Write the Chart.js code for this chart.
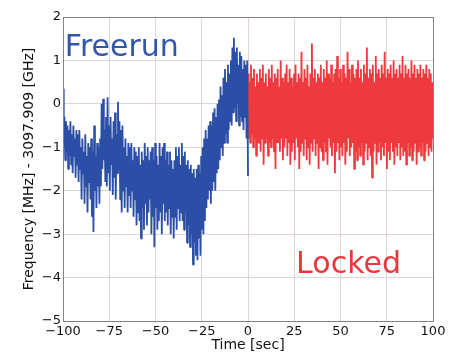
<!DOCTYPE html>
<html><head><meta charset="utf-8">
<script src="https://cdn.jsdelivr.net/npm/chart.js@4.4.1/dist/chart.umd.min.js"></script>
<style>html,body{margin:0;padding:0;background:#fff;}canvas{display:block;}</style>
</head><body>
<canvas id="c" width="459" height="354"></canvas>
<script>
// Time span of each run (seconds)
const freerunStart = -100, freerunEnd = 0;
const lockedStart = 0, lockedEnd = 100;
// Frequency offset (MHz), free-running
const freerunValues = [
 0.35,-1.0,-0.3,-1.3,-0.4,-1.1,-0.5,-1.5,-0.6,-1.2,
 -0.4,-1.4,-0.7,-1.6,-0.5,-1.2,-0.8,-1.7,-0.6,-1.4,
 -0.7,-1.8,-0.6,-1.5,-1.0,-2.2,-0.8,-1.6,-1.1,-2.3,
 -0.7,-1.9,-1.2,-2.5,-0.9,-1.8,-1.0,-2.2,-0.8,-2.6,
 -1.1,-2.95,-0.5,-2.0,-1.2,-2.4,-0.9,-1.9,-1.0,-2.3,
 -0.8,-1.9,0.0,-1.5,0.12,-1.3,-0.6,-1.8,-0.3,-1.9,
 0.15,-1.6,-0.5,-2.0,-0.3,-1.4,-0.8,-2.1,-0.4,-1.7,
 -0.2,-2.2,-0.7,-1.6,0.05,-1.5,-0.4,-2.2,-0.6,-2.5,
 -0.5,-2.0,-1.0,-2.4,-0.8,-1.9,-1.2,-2.5,-0.9,-2.1,
 -1.0,-2.4,-0.9,-2.0,-1.3,-2.6,-1.0,-2.2,-1.1,-2.8,
 -1.2,-2.5,-1.0,-2.7,-1.4,-3.1,-1.1,-2.4,-1.3,-2.9,
 -0.9,-2.3,-1.2,-2.8,-1.0,-2.5,-1.3,-2.2,-1.1,-3.0,
 -1.0,-2.6,-1.3,-3.3,-0.9,-2.4,-1.2,-2.9,-1.4,-2.7,
 -0.9,-2.5,-1.2,-3.0,-1.0,-2.3,-0.9,-2.7,-1.3,-2.5,
 -1.1,-2.8,-1.4,-2.4,-1.1,-3.0,-1.3,-2.6,-1.5,-3.1,
 -1.3,-2.6,-1.0,-2.9,-1.2,-2.4,-1.0,-2.7,-1.4,-2.5,
 -0.9,-2.7,-1.2,-2.9,-1.1,-2.5,-1.4,-3.2,-1.3,-2.8,
 -1.5,-3.3,-1.4,-3.0,-1.6,-3.7,-1.5,-3.2,-1.7,-3.5,
 -1.5,-3.6,-1.4,-3.1,-1.6,-3.5,-1.2,-2.9,-1.0,-3.0,
 -0.8,-2.7,-0.6,-2.4,-0.8,-2.2,-0.5,-2.0,-0.4,-2.3,
 -0.5,-2.0,-0.2,-1.8,-0.1,-2.0,-0.3,-1.6,0.0,-1.5,
 0.1,-1.3,0.4,-1.0,0.2,-1.2,0.6,-0.9,0.8,-0.7,
 0.5,-0.9,0.9,-0.6,0.7,-0.4,1.0,-0.5,1.3,-0.2,
 1.52,-0.1,1.2,-0.4,1.3,0.0,0.9,-0.5,1.2,-0.3,
 1.1,-0.4,0.8,-0.6,1.0,-0.3,0.9,-0.8,1.0,-1.66
];
// Frequency offset (MHz), locked
const lockedValues = [
 0.7,-0.8,0.5,-0.9,0.9,-0.7,0.6,-1.0,0.8,-0.8,
 0.4,-1.2,0.7,-0.9,0.5,-0.9,0.8,-1.1,0.6,-0.8,
 0.9,-1.4,0.5,-0.9,0.7,-0.8,0.4,-1.2,0.8,-0.9,
 0.6,-1.0,0.9,-0.8,0.5,-1.1,0.7,-1.5,0.6,-0.9,
 0.8,-0.9,0.4,-1.1,1.0,-0.8,0.6,-1.3,0.5,-1.0,
 0.7,-0.8,0.9,-1.2,0.5,-0.9,0.8,-1.4,0.6,-1.1,
 0.4,-0.9,0.7,-1.3,0.9,-0.8,0.5,-1.0,0.7,-1.5,
 0.6,-1.1,1.2,-0.9,0.5,-1.2,0.8,-0.8,0.6,-1.3,
 0.9,-1.0,0.4,-1.4,0.7,-0.9,1.39,-1.1,0.6,-0.8,
 0.8,-1.2,0.5,-0.9,0.7,-1.5,0.6,-1.0,0.9,-1.1,
 0.5,-1.3,0.8,-0.9,0.6,-1.1,1.0,-1.4,0.7,-0.8,
 0.6,-1.0,0.9,-1.2,0.5,-0.9,0.7,-1.6,0.8,-1.1,
 1.1,-0.9,0.6,-1.3,0.8,-1.0,0.5,-1.2,0.9,-0.9,
 0.7,-1.4,0.6,-1.1,1.2,-0.8,0.8,-1.2,0.5,-1.0,
 0.9,-0.9,0.7,-1.5,0.6,-1.1,0.8,-1.3,1.0,-1.0,
 0.6,-1.2,0.8,-0.9,0.5,-1.4,0.9,-1.1,0.7,-0.9,
 1.3,-1.3,0.6,-1.0,0.8,-1.2,0.7,-1.7,0.9,-1.1,
 0.5,-0.9,1.1,-1.4,0.7,-1.1,0.8,-0.9,0.6,-1.3,
 0.9,-1.0,0.7,-1.2,1.2,-0.9,0.6,-1.5,0.8,-1.1,
 0.7,-1.3,0.9,-0.9,0.6,-1.1,1.0,-1.4,0.7,-1.0,
 0.8,-1.2,0.6,-0.9,0.9,-1.3,0.7,-1.0,1.1,-1.2,
 0.6,-1.1,0.9,-1.4,0.7,-0.9,0.8,-1.2,0.6,-1.0,
 1.0,-1.3,0.7,-1.1,0.9,-0.9,0.6,-1.4,0.8,-1.1,
 0.7,-1.0,0.9,-1.2,0.6,-0.9,0.8,-1.3,0.7,-1.1,
 0.9,-0.9,0.6,-1.2,0.8,-1.0,0.7,-1.1,0.5,-0.8
];
const xTicks = [-100, -75, -50, -25, 0, 25, 50, 75, 100];
const yTicks = [-5, -4, -3, -2, -1, 0, 1, 2];
const xTitle = 'Time [sec]';
const yTitle = 'Frequency [MHz] - 3097.909 [GHz]';
const labelsText = [{text: 'Freerun', x: -99, y: 1.1, color: '#3456a8'},
                    {text: 'Locked', x: 26, y: -3.9, color: '#e8383d'}];

function toPoints(vals, t0, t1) {
  const n = vals.length;
  return vals.map((v, i) => ({x: t0 + (t1 - t0) * i / (n - 1), y: v}));
}
const minus = s => String(s).replace('-', '\u2212');
const FONT = "'DejaVu Sans', sans-serif";

const framePlugin = {
  id: 'frame',
  afterDatasetsDraw(chart) {
    const {ctx, chartArea: a, scales} = chart;
    ctx.save();
    ctx.strokeStyle = '#8a8080';
    ctx.lineWidth = 1;
    ctx.strokeRect(Math.round(a.left) + 0.5, Math.round(a.top) + 0.5,
                   Math.round(a.right - a.left), Math.round(a.bottom - a.top));
    ctx.font = '30px ' + FONT;
    ctx.textBaseline = 'alphabetic';
    ctx.textAlign = 'left';
    labelsText.forEach(l => {
      ctx.fillStyle = l.color;
      ctx.fillText(l.text, scales.x.getPixelForValue(l.x), scales.y.getPixelForValue(l.y));
    });
    ctx.restore();
  }
};

new Chart(document.getElementById('c'), {
  type: 'line',
  data: {
    datasets: [
      {data: toPoints(freerunValues, freerunStart, freerunEnd), borderColor: '#2b4fa6', borderWidth: 1.8,
       pointRadius: 0, tension: 0, borderJoinStyle: 'bevel', fill: false},
      {data: toPoints(lockedValues, lockedStart, lockedEnd), borderColor: '#ee3a3e', borderWidth: 1.8,
       pointRadius: 0, tension: 0, borderJoinStyle: 'bevel', fill: false}
    ]
  },
  options: {
    responsive: false,
    animation: false,
    parsing: false,
    normalized: true,
    layout: {padding: {top: 17, right: 26, left: 0, bottom: 0}},
    plugins: {legend: {display: false}, tooltip: {enabled: false}},
    scales: {
      x: {
        type: 'linear', min: -100, max: 100,
        afterBuildTicks: s => { s.ticks = xTicks.map(v => ({value: v})); },
        afterFit: s => { s.height = 33; },
        border: {display: false},
        grid: {color: '#ddd5d5', lineWidth: 1, drawTicks: false},
        ticks: {color: '#111', font: {family: FONT, size: 13}, padding: 3, maxRotation: 0,
                callback: v => minus(v)},
        title: {display: true, text: xTitle, color: '#111', font: {family: FONT, size: 14},
                padding: {top: 0, bottom: 0}}
      },
      y: {
        type: 'linear', min: -5, max: 2,
        afterBuildTicks: s => { s.ticks = yTicks.map(v => ({value: v})); },
        afterFit: s => { s.width = 63; },
        border: {display: false},
        grid: {color: '#ddd5d5', lineWidth: 1, drawTicks: false},
        ticks: {color: '#111', font: {family: FONT, size: 13}, padding: 2,
                callback: v => minus(v)},
        title: {display: true, text: yTitle, color: '#111', font: {family: FONT, size: 14},
                padding: {top: 21, bottom: 0}}
      }
    }
  },
  plugins: [framePlugin]
});
</script>
</body></html>
